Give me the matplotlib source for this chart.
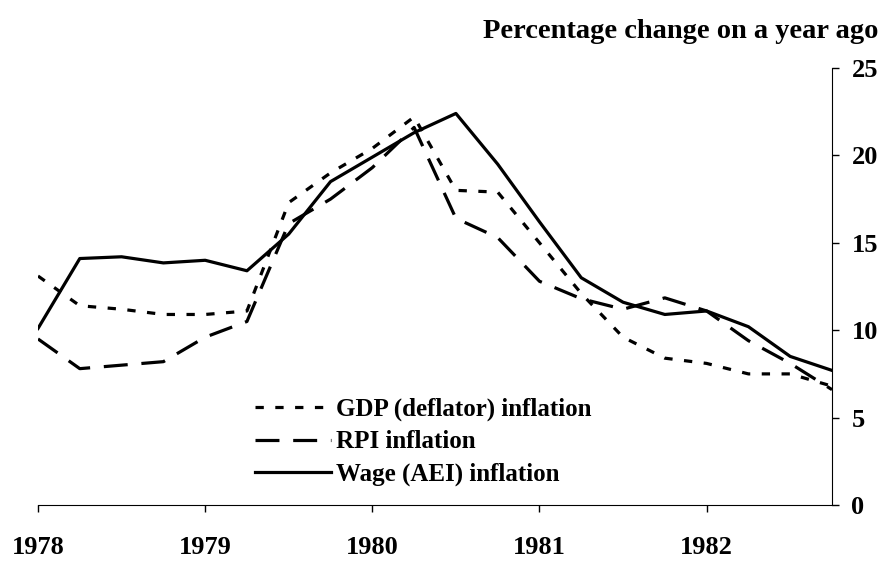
import matplotlib
matplotlib.use("Agg")
import matplotlib.pyplot as plt

# Quarterly data, 1978 Q1 - 1982 Q4 (percentage change on a year ago)
quarters = list(range(20))
year_ticks = [0, 4, 8, 12, 16]
year_labels = ["1978", "1979", "1980", "1981", "1982"]

gdp_deflator = [13.1, 11.4, 11.2, 10.9, 10.9, 11.1, 17.3, 19.0, 20.4, 22.2,
                18.0, 17.9, 15.0, 12.1, 9.6, 8.4, 8.1, 7.5, 7.5, 6.8]
rpi = [9.5, 7.8, 8.0, 8.2, 9.6, 10.5, 16.1, 17.5, 19.3, 21.6,
       16.4, 15.3, 12.8, 11.8, 11.2, 11.85, 11.1, 9.4, 8.1, 6.6]
wage_aei = [10.1, 14.1, 14.2, 13.85, 14.0, 13.4, 15.5, 18.5, 19.9, 21.3,
            22.4, 19.5, 16.2, 13.0, 11.6, 10.9, 11.1, 10.2, 8.5, 7.7]

plt.rcParams['font.family'] = ['Liberation Serif', 'DejaVu Serif']
plt.rcParams['font.weight'] = 'bold'

fig = plt.figure(figsize=(8.85, 5.61), dpi=100)
ax = fig.add_axes([38/885, 56/561, (832-38)/885, (505-68)/561])

lw = 2.3
ax.plot(quarters, gdp_deflator, color='black', lw=lw, linestyle=(0, (2.6, 3.6)),
        label='GDP (deflator) inflation')
ax.plot(quarters, rpi, color='black', lw=lw, linestyle=(0, (7.5, 4.3)),
        label='RPI inflation')
ax.plot(quarters, wage_aei, color='black', lw=lw, linestyle='-',
        label='Wage (AEI) inflation')

ax.set_xlim(0, 19)
ax.set_ylim(0, 25)
ax.set_yticks([0, 5, 10, 15, 20, 25])
ax.set_xticks(year_ticks)
ax.set_xticklabels(year_labels)

ax.spines['top'].set_visible(False)
ax.spines['left'].set_visible(False)
ax.yaxis.tick_right()
ax.tick_params(axis='y', direction='out', length=5, pad=9, labelsize=19, width=1)
ax.tick_params(axis='x', direction='out', length=5, pad=17, labelsize=19, width=1)
for t in ax.get_xticklabels() + ax.get_yticklabels():
    t.set_fontweight('bold')

fig.text(878/885, 1 - 32/561, 'Percentage change on a year ago', ha='right', va='center',
         fontsize=20.5, fontweight='bold')

leg = ax.legend(loc='center left', bbox_to_anchor=(255/885, 1 - 442/561),
                bbox_transform=fig.transFigure, frameon=False, fontsize=18,
                handlelength=3.05, handletextpad=0.2, labelspacing=0.37,
                borderpad=0, borderaxespad=0)
for t in leg.get_texts():
    t.set_fontweight('bold')

fig.savefig('out.png', dpi=100)
